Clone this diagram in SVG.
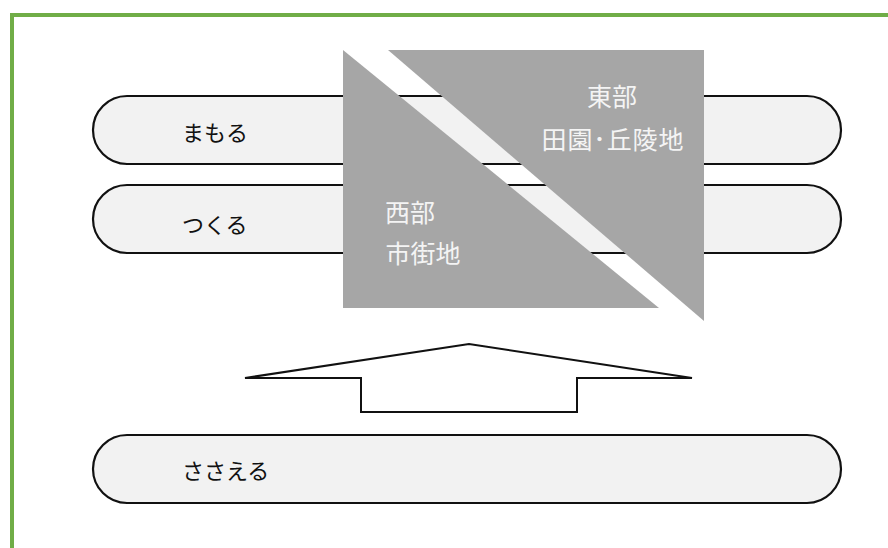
<svg xmlns="http://www.w3.org/2000/svg" width="888" height="548" viewBox="0 0 888 548">
<style>
.pill{fill:#f2f2f2;stroke:#111111;stroke-width:2.2}
.zone{fill:#a6a6a6}
.lbl{font-family:"Noto Sans CJK JP","Noto Sans CJK SC",sans-serif;font-size:22px;fill:#111111}
.wl{font-family:"Noto Sans CJK JP","Noto Sans CJK SC",sans-serif;font-size:25px;fill:#f4f4f4;text-anchor:middle}
</style>
<rect x="0" y="0" width="888" height="548" fill="#ffffff"/>
<rect x="12" y="15" width="900" height="560" fill="none" stroke="#70ad47" stroke-width="4"/>
<g id="mamoru">
<rect class="pill" x="93" y="96" width="748" height="68" rx="34" ry="34"/>
<text class="lbl" x="182" y="141">まもる</text>
</g>
<g id="tsukuru">
<rect class="pill" x="93" y="185" width="748" height="68" rx="34" ry="34"/>
<text class="lbl" x="182" y="233">つくる</text>
</g>
<g id="west">
<polygon class="zone" points="343,50 343,308 659,308"/>
<text class="wl" x="410" y="222">西部</text>
<text class="wl" x="423" y="263">市街地</text>
</g>
<g id="east">
<polygon class="zone" points="388,50 704,50 704,321"/>
<text class="wl" x="612" y="106">東部</text>
<text class="wl" x="612.5" y="149" textLength="142" lengthAdjust="spacing">田園･丘陵地</text>
</g>
<g id="connectors">
<polygon points="245,378 469,344 692,378 577,378 577,412 361,412 361,378" fill="#ffffff" stroke="#111111" stroke-width="2" stroke-linejoin="miter"/>
</g>
<g id="sasaeru">
<rect class="pill" x="93" y="435" width="748" height="68" rx="34" ry="34"/>
<text class="lbl" x="182" y="479">ささえる</text>
</g>
</svg>
